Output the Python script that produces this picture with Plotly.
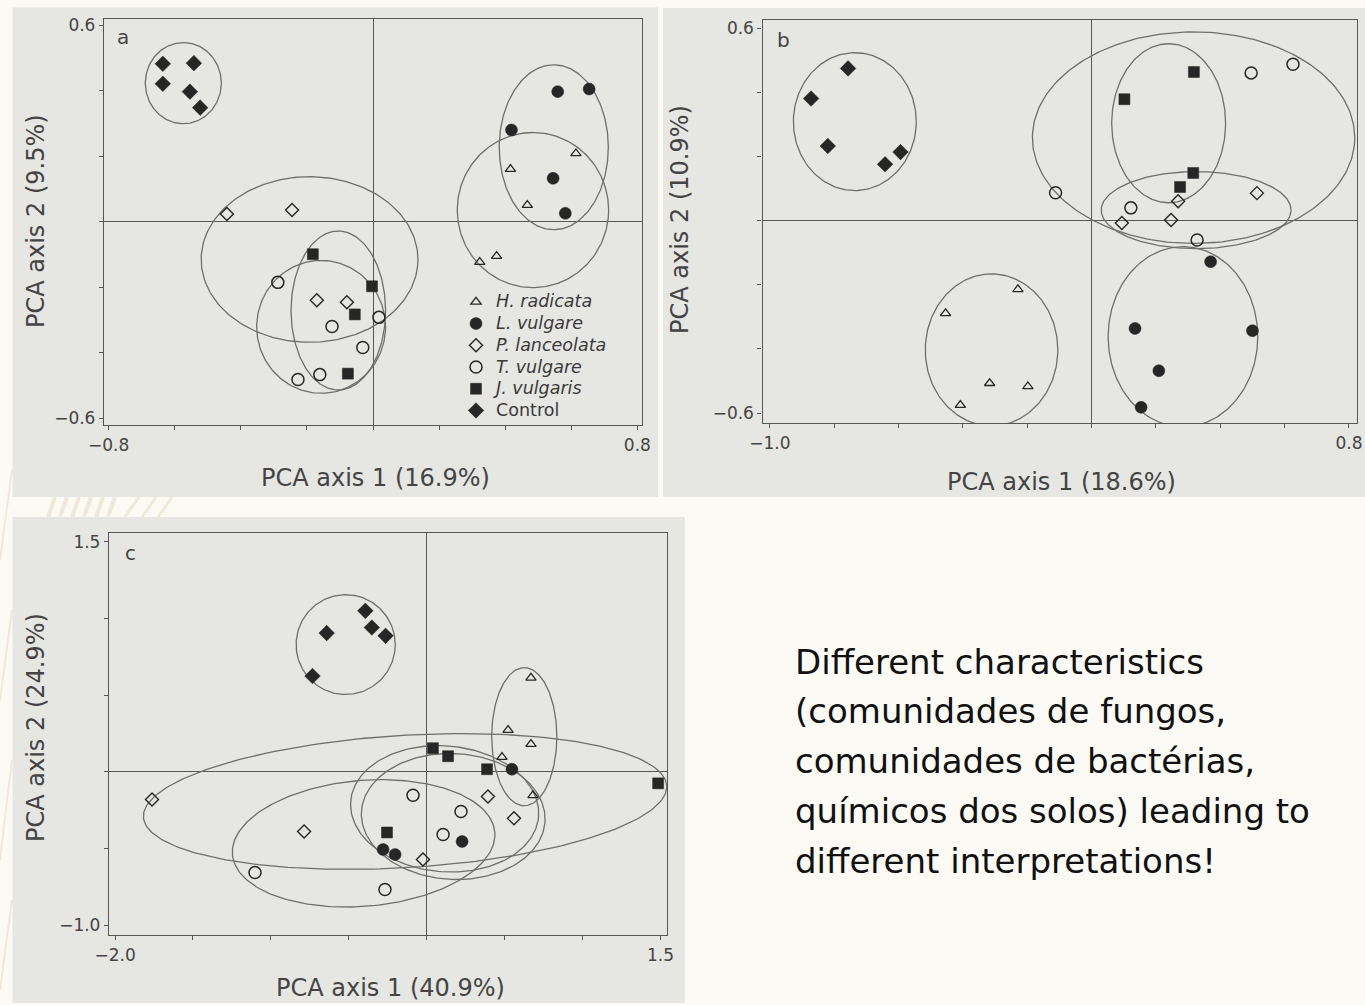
import numpy as np
import plotly.graph_objects as go

W, H = 1365, 1005

# ---------------- data ----------------
groups = ["H. radicata", "L. vulgare", "P. lanceolata", "T. vulgare", "J. vulgaris", "Control"]

# Panel a (PCA axis 1 16.9%, axis 2 9.5%)
a_hrad_x = [0.614, 0.416, 0.467, 0.323, 0.374]
a_hrad_y = [0.209, 0.161, 0.051, -0.123, -0.105]
a_lvul_x = [0.559, 0.654, 0.419, 0.545, 0.582]
a_lvul_y = [0.398, 0.406, 0.281, 0.133, 0.026]
a_plan_x = [-0.442, -0.245, -0.170, -0.079]
a_plan_y = [0.024, 0.036, -0.240, -0.246]
a_tvul_x = [-0.288, -0.124, -0.031, 0.018, -0.227, -0.161]
a_tvul_y = [-0.185, -0.320, -0.384, -0.292, -0.482, -0.467]
a_jvul_x = [-0.182, -0.003, -0.055, -0.076]
a_jvul_y = [-0.099, -0.197, -0.283, -0.464]
a_ctrl_x = [-0.636, -0.542, -0.636, -0.554, -0.523]
a_ctrl_y = [0.483, 0.485, 0.422, 0.398, 0.349]
# ellipses: centre x, centre y, semi-axis x, semi-axis y, rotation (deg)
a_ell_cx = [0.484, 0.547, -0.192, -0.157, -0.105, -0.574]
a_ell_cy = [0.036, 0.228, -0.115, -0.321, -0.271, 0.424]
a_ell_rx = [0.229, 0.165, 0.328, 0.195, 0.143, 0.115]
a_ell_ry = [0.237, 0.252, 0.253, 0.203, 0.243, 0.124]
a_ell_rot = [0, 0, 0, 0, 0, 0]

# Panel b (PCA axis 1 18.6%, axis 2 10.9%)
b_hrad_x = [-0.229, -0.454, -0.317, -0.198, -0.408]
b_hrad_y = [-0.214, -0.289, -0.507, -0.517, -0.575]
b_lvul_x = [0.370, 0.135, 0.500, 0.209, 0.154]
b_lvul_y = [-0.128, -0.336, -0.343, -0.468, -0.582]
b_plan_x = [0.269, 0.514, 0.247, 0.094]
b_plan_y = [0.061, 0.086, 0.002, -0.007]
b_tvul_x = [0.496, 0.626, -0.112, 0.122, 0.328]
b_tvul_y = [0.461, 0.488, 0.087, 0.040, -0.060]
b_jvul_x = [0.318, 0.102, 0.316, 0.275]
b_jvul_y = [0.464, 0.379, 0.149, 0.105]
b_ctrl_x = [-0.757, -0.872, -0.820, -0.642, -0.594]
b_ctrl_y = [0.475, 0.381, 0.233, 0.176, 0.214]
b_ell_cx = [-0.311, 0.284, 0.325, 0.317, 0.2395, -0.736]
b_ell_cy = [-0.403, -0.362, 0.033, 0.259, 0.304, 0.309]
b_ell_rx = [0.206, 0.2325, 0.295, 0.501, 0.177, 0.191]
b_ell_ry = [0.237, 0.281, 0.120, 0.330, 0.248, 0.215]
b_ell_rot = [0, 0, 0, 0, 0, 0]

# Panel c (PCA axis 1 40.9%, axis 2 24.9%)
c_hrad_x = [0.669, 0.522, 0.669, 0.483, 0.682]
c_hrad_y = [0.613, 0.273, 0.182, 0.097, -0.152]
c_lvul_x = [0.547, 0.227, -0.280, -0.203]
c_lvul_y = [0.018, -0.453, -0.505, -0.538]
c_plan_x = [-1.763, -0.787, 0.393, 0.560, -0.024]
c_plan_y = [-0.179, -0.388, -0.159, -0.302, -0.570]
c_tvul_x = [-0.088, 0.220, 0.105, -0.268, -1.102]
c_tvul_y = [-0.152, -0.257, -0.407, -0.766, -0.655]
c_jvul_x = [0.040, 0.137, 0.387, 1.485, -0.255]
c_jvul_y = [0.155, 0.103, 0.018, -0.074, -0.394]
c_ctrl_x = [-0.394, -0.642, -0.352, -0.264, -0.733]
c_ctrl_y = [1.050, 0.905, 0.941, 0.887, 0.625]
c_ell_cx = [0.626, 0.170, -0.139, -0.405, 0.115, -0.520]
c_ell_cy = [0.230, -0.290, -0.192, -0.465, -0.240, 0.830]
c_ell_rx = [0.209, 0.590, 1.682, 0.845, 0.605, 0.318]
c_ell_ry = [0.450, 0.410, 0.431, 0.410, 0.410, 0.325]
c_ell_rot = [0, -3, 3.5, 5, -5, 0]

# tick labels
a_xticks = [-0.8, -0.6, -0.4, -0.2, 0.0, 0.2, 0.4, 0.6, 0.8]
a_xlabels = ["\u22120.8", "", "", "", "", "", "", "", "0.8"]
a_yticks = [-0.6, -0.4, -0.2, 0.0, 0.2, 0.4, 0.6]
a_ylabels = ["\u22120.6", "", "", "", "", "", "0.6"]
b_xticks = [-1.0, -0.8, -0.6, -0.4, -0.2, 0.0, 0.2, 0.4, 0.6, 0.8]
b_xlabels = ["\u22121.0", "", "", "", "", "", "", "", "", "0.8"]
b_yticks = [-0.6, -0.4, -0.2, 0.0, 0.2, 0.4, 0.6]
b_ylabels = ["\u22120.6", "", "", "", "", "", "0.6"]
c_xticks = [-2.0, -1.5, -1.0, -0.5, 0.0, 0.5, 1.0, 1.5]
c_xlabels = ["\u22122.0", "", "", "", "", "", "", "1.5"]
c_yticks = [-1.0, -0.5, 0.0, 0.5, 1.0, 1.5]
c_ylabels = ["\u22121.0", "", "", "", "", "1.5"]

x_titles = ["PCA axis 1 (16.9%)", "PCA axis 1 (18.6%)", "PCA axis 1 (40.9%)"]
y_titles = ["PCA axis 2 (9.5%)", "PCA axis 2 (10.9%)", "PCA axis 2 (24.9%)"]
panel_letters = ["a", "b", "c"]

side_text = [
    "Different characteristics",
    "(comunidades de fungos,",
    "comunidades de bactérias,",
    "químicos dos solos) leading to",
    "different interpretations!",
]

# ---------------- styling ----------------
INK = "#262626"
LINE = "#575757"
ELL = "#6e6e6e"
PANEL = "#e6e6e3"
CREAM = "#fcfaf4"
FONT = "DejaVu Sans"

styles = {
    "H. radicata": dict(symbol="triangle-up-open", size=9, color=INK, line=dict(width=1.3, color=INK)),
    "L. vulgare": dict(symbol="circle", size=12, color=INK, line=dict(width=0.5, color=INK)),
    "P. lanceolata": dict(symbol="diamond-open", size=10, color=INK, line=dict(width=1.4, color=INK)),
    "T. vulgare": dict(symbol="circle-open", size=12, color=INK, line=dict(width=1.5, color=INK)),
    "J. vulgaris": dict(symbol="square", size=11, color=INK, line=dict(width=0.5, color=INK)),
    "Control": dict(symbol="diamond", size=12, color=INK, line=dict(width=0.5, color=INK)),
}
LEG_SPAN = '<span style="font-size:17.5px">{}</span>'
legend_names = {
    "H. radicata": LEG_SPAN.format("<i>H. radicata</i>"),
    "L. vulgare": LEG_SPAN.format("<i>L. vulgare</i>"),
    "P. lanceolata": LEG_SPAN.format("<i>P. lanceolata</i>"),
    "T. vulgare": LEG_SPAN.format("<i>T. vulgare</i>"),
    "J. vulgaris": LEG_SPAN.format("<i>J. vulgaris</i>"),
    "Control": LEG_SPAN.format("Control"),
}

panels = [
    dict(key="a", xa="x", ya="y",
         pts=[(a_hrad_x, a_hrad_y), (a_lvul_x, a_lvul_y), (a_plan_x, a_plan_y),
              (a_tvul_x, a_tvul_y), (a_jvul_x, a_jvul_y), (a_ctrl_x, a_ctrl_y)],
         ell=(a_ell_cx, a_ell_cy, a_ell_rx, a_ell_ry, a_ell_rot)),
    dict(key="b", xa="x2", ya="y2",
         pts=[(b_hrad_x, b_hrad_y), (b_lvul_x, b_lvul_y), (b_plan_x, b_plan_y),
              (b_tvul_x, b_tvul_y), (b_jvul_x, b_jvul_y), (b_ctrl_x, b_ctrl_y)],
         ell=(b_ell_cx, b_ell_cy, b_ell_rx, b_ell_ry, b_ell_rot)),
    dict(key="c", xa="x3", ya="y3",
         pts=[(c_hrad_x, c_hrad_y), (c_lvul_x, c_lvul_y), (c_plan_x, c_plan_y),
              (c_tvul_x, c_tvul_y), (c_jvul_x, c_jvul_y), (c_ctrl_x, c_ctrl_y)],
         ell=(c_ell_cx, c_ell_cy, c_ell_rx, c_ell_ry, c_ell_rot)),
]


def ellipse_path(cx, cy, rx, ry, rot):
    t = np.linspace(0, 2 * np.pi, 240)
    th = np.radians(rot)
    x = cx + rx * np.cos(t) * np.cos(th) - ry * np.sin(t) * np.sin(th)
    y = cy + rx * np.cos(t) * np.sin(th) + ry * np.sin(t) * np.cos(th)
    return x, y


fig = go.Figure()

for pi, p in enumerate(panels):
    cxs, cys, rxs, rys, rots = p["ell"]
    for gi, g in enumerate(groups):
        ex, ey = ellipse_path(cxs[gi], cys[gi], rxs[gi], rys[gi], rots[gi])
        fig.add_trace(go.Scatter(x=ex, y=ey, mode="lines", xaxis=p["xa"], yaxis=p["ya"],
                                 line=dict(color=ELL, width=1.3), hoverinfo="skip",
                                 showlegend=False))
    for gi, g in enumerate(groups):
        xs, ys = p["pts"][gi]
        fig.add_trace(go.Scatter(x=xs, y=ys, mode="markers", xaxis=p["xa"], yaxis=p["ya"],
                                 name=legend_names[g], legendgroup=g,
                                 showlegend=(pi == 0), marker=styles[g]))


def px_x(v):
    return v / W


def px_y(v):
    return 1 - v / H


def axis(domain, rng, tv, tt, anchor):
    return dict(domain=domain, range=rng, tickvals=tv, ticktext=tt, ticks="outside",
                ticklen=4, tickwidth=1.2, tickcolor=LINE, showline=True, mirror=True,
                linecolor=LINE, linewidth=1.3, zeroline=True, zerolinecolor=LINE,
                zerolinewidth=1.3, showgrid=False, anchor=anchor, automargin=False,
                tickfont=dict(family=FONT, size=17, color="#444"), fixedrange=True)


fig.update_layout(
    width=W, height=H, margin=dict(l=0, r=0, t=0, b=0, pad=0, autoexpand=False),
    paper_bgcolor=CREAM, plot_bgcolor=PANEL,
    xaxis=axis([px_x(104), px_x(642)], [-0.814, 0.814], a_xticks, a_xlabels, "y"),
    yaxis=axis([px_y(425), px_y(19)], [-0.621, 0.620], a_yticks, a_ylabels, "x"),
    xaxis2=axis([px_x(762.5), px_x(1357)], [-1.023, 0.825], b_xticks, b_xlabels, "y2"),
    yaxis2=axis([px_y(423), px_y(20)], [-0.631, 0.626], b_yticks, b_ylabels, "x2"),
    xaxis3=axis([px_x(109), px_x(667)], [-2.039, 1.542], c_xticks, c_xlabels, "y3"),
    yaxis3=axis([px_y(935), px_y(532.7)], [-1.062, 1.559], c_yticks, c_ylabels, "x3"),
    legend=dict(x=px_x(456), y=px_y(286), xanchor="left", yanchor="top",
                bgcolor="rgba(0,0,0,0)", borderwidth=0, itemwidth=30,
                font=dict(family=FONT, size=14.4, color="#3a3a3a"), tracegroupgap=0),
    showlegend=True,
)

# slide decoration (faint strokes in the cream background) + grey scanned-figure panels
DECO = "#efe9da"
shapes = []
for x0 in [48, 60, 72, 84, 96, 108]:
    shapes.append(dict(type="line", xref="paper", yref="paper",
                       x0=px_x(x0), y0=px_y(517), x1=px_x(x0 + 7), y1=px_y(497),
                       line=dict(color=DECO, width=4), layer="below"))
for x0 in [125, 142, 158]:
    shapes.append(dict(type="line", xref="paper", yref="paper",
                       x0=px_x(x0), y0=px_y(517), x1=px_x(x0 + 14), y1=px_y(497),
                       line=dict(color=DECO, width=3), layer="below"))
for x0, y0, x1, y1 in [(0, 560, 12, 470), (0, 700, 12, 610), (0, 860, 12, 760), (0, 990, 12, 900)]:
    shapes.append(dict(type="line", xref="paper", yref="paper",
                       x0=px_x(x0), y0=px_y(y0), x1=px_x(x1), y1=px_y(y1),
                       line=dict(color=DECO, width=2), layer="below"))
for (x0, y0, x1, y1) in [(12.5, 7.5, 658, 497), (663, 8, 1365, 497), (12.5, 517, 685, 1003)]:
    shapes.append(dict(type="rect", xref="paper", yref="paper", x0=px_x(x0), x1=px_x(x1),
                       y0=px_y(y1), y1=px_y(y0), fillcolor=PANEL, line=dict(width=0),
                       layer="below"))
fig.update_layout(shapes=shapes)

ann = []
xt_pos = [(375, 478), (1061, 482), (390, 988)]
yt_pos = [(36, 221), (680, 220), (36, 728)]
lt_pos = [(123, 37), (784, 40), (130, 553)]
for i in range(3):
    ann.append(dict(text=x_titles[i], x=px_x(xt_pos[i][0]), y=px_y(xt_pos[i][1]),
                    xref="paper", yref="paper", showarrow=False, xanchor="center",
                    yanchor="middle", font=dict(family=FONT, size=24, color="#444")))
    ann.append(dict(text=y_titles[i], x=px_x(yt_pos[i][0]), y=px_y(yt_pos[i][1]),
                    xref="paper", yref="paper", showarrow=False, xanchor="center",
                    yanchor="middle", textangle=-90,
                    font=dict(family=FONT, size=24, color="#444")))
    ann.append(dict(text=panel_letters[i], x=px_x(lt_pos[i][0]), y=px_y(lt_pos[i][1]),
                    xref="paper", yref="paper", showarrow=False, xanchor="center",
                    yanchor="middle", font=dict(family=FONT, size=20, color="#444")))

line_centres = [662, 711, 761, 811, 861]
for t, yc in zip(side_text, line_centres):
    ann.append(dict(text=t, x=px_x(793), y=px_y(yc), xref="paper", yref="paper",
                    showarrow=False, xanchor="left", yanchor="middle",
                    font=dict(family=FONT, size=34, color="#111111")))
fig.update_layout(annotations=ann)

fig.write_html("out.html")
